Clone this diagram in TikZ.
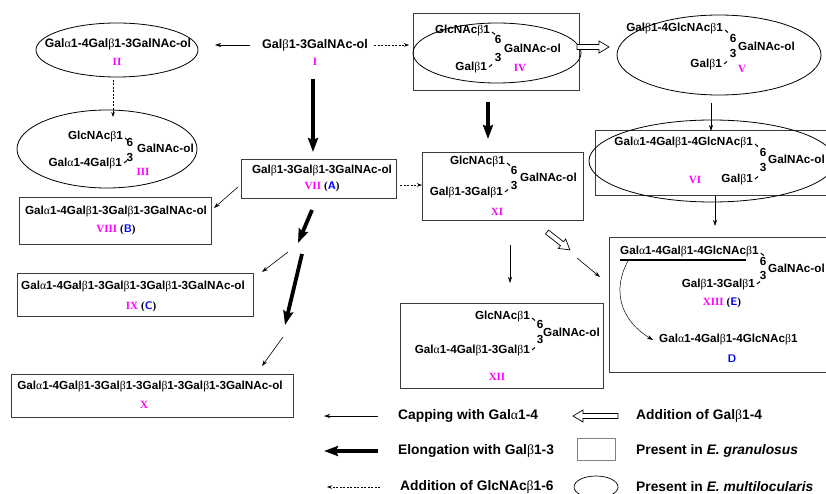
\documentclass[tikz,border=0pt]{standalone}
\usepackage{fontspec}
\setmainfont{Liberation Sans}
\newfontfamily\grk{Liberation Serif}
\newfontfamily\romf{Liberation Serif}
\usetikzlibrary{arrows.meta}
\definecolor{mag}{RGB}{255,0,255}
\definecolor{blu}{RGB}{0,0,255}
\definecolor{boxc}{RGB}{60,60,60}
\newcommand\bet{{\grk\mdseries β}}
\newcommand\alp{{\grk\mdseries α}}
\newcommand\rn[1]{{\romf\bfseries\color{mag}#1}}
\newcommand\ltr[1]{{\romf\bfseries(}{\sffamily\bfseries\color{blu}#1}{\romf\bfseries)}}
\tikzset{
  txt/.style={font=\fontsize{11.7}{13}\selectfont\bfseries, inner sep=0pt},
  bigtxt/.style={font=\fontsize{12.6}{14}\selectfont\bfseries, inner sep=0pt},
  legtxt/.style={font=\fontsize{13.8}{15}\selectfont\bfseries, inner sep=0pt, anchor=west},
  num/.style={font=\fontsize{11}{12}\selectfont, inner sep=0pt},
  sbox/.style={draw=boxc, line width=0.9pt},
  ell/.style={draw, line width=0.8pt},
  thinarr/.style={-{Stealth[length=6pt,width=4pt]}, line width=0.6pt},
  thickarr/.style={-{Stealth[length=14pt,width=10pt,inset=2pt]}, line width=3.8pt},
  dots/.style={-{Stealth[length=5pt,width=3.5pt]}, line width=0.6pt, dash pattern=on 2pt off 1.5pt},
  br/.style={line width=1pt},
  hollowarr/.pic={\draw[fill=white, line width=0.7pt] (0,-2.5) -- (#1-10,-2.5) -- (#1-10,-6) -- (#1,0) -- (#1-10,6) -- (#1-10,2.5) -- (0,2.5) -- cycle;},
}
\begin{document}
\begin{tikzpicture}[x=1pt,y=-1pt]
\useasboundingbox (0,0) rectangle (826,494);

% ---------- I ----------
\node[bigtxt] (Ia) at (315,45) {Gal\bet1-3GalNAc-ol};
\node[num] (In) at (315,62) {\rn{I}};

% ---------- II ----------
\draw[ell] (117,50) ellipse [x radius=81, y radius=27];
\node[bigtxt, font=\fontsize{12.2}{13}\selectfont\bfseries] (IIa) at (118,44) {Gal\alp1-4Gal\bet1-3GalNAc-ol};
\node[num] (IIn) at (117,62) {\rn{II}};

% ---------- III ----------
\draw[ell] (107,149) ellipse [x radius=90, y radius=39];
\node[txt, anchor=east] (IIIa) at (123,137) {GlcNAc\bet1};
\node[txt] (III6) at (130,142) {6};
\node[txt, anchor=west] (IIIb) at (137,148) {GalNAc-ol};
\node[txt] (III3) at (130,157) {3};
\node[txt, anchor=east] (IIIc) at (122,164) {Gal\alp1-4Gal\bet1};
\node[num] (IIIn) at (143,172) {\rn{III}};
\draw[br] ([shift={(2,1)}]IIIa.east) -- ++(3,2.5);
\draw[br] ([shift={(2,-1)}]IIIc.east) -- ++(3,-2.5);

% ---------- IV ----------
\draw[sbox] (413,13) rectangle (579,90);
\draw[ell] (497,53) ellipse [x radius=84, y radius=30];
\node[txt, anchor=east] (IVa) at (490,31) {GlcNAc\bet1};
\node[txt] (IV6) at (498,39) {6};
\node[txt, anchor=west] (IVb) at (504,48) {GalNAc-ol};
\node[txt] (IV3) at (498,57) {3};
\node[txt, anchor=east] (IVc) at (487,68) {Gal\bet1};
\node[num] (IVn) at (520,68) {\rn{IV}};
\draw[br] ([shift={(2,1)}]IVa.east) -- ++(3,2.5);
\draw[br] ([shift={(2,-1)}]IVc.east) -- ++(3,-2.5);

% ---------- V ----------
\draw[ell] (719,55) ellipse [x radius=102, y radius=40];
\node[txt, anchor=east] (Va) at (723,29) {Gal\bet1-4GlcNAc\bet1};
\node[txt] (V6) at (733,38) {6};
\node[txt, anchor=west] (Vb) at (738,46) {GalNAc-ol};
\node[txt] (V3) at (733,53) {3};
\node[txt, anchor=east] (Vc) at (722,65) {Gal\bet1};
\node[num] (Vn) at (742,69) {\rn{V}};
\draw[br] ([shift={(2,1)}]Va.east) -- ++(3,2.5);
\draw[br] ([shift={(2,-1)}]Vc.east) -- ++(3,-2.5);

% ---------- VI ----------
\draw[sbox] (830,130) -- (595,130) -- (595,195) -- (830,195);
\draw[ell] (712,161) ellipse [x radius=123, y radius=41];
\node[txt, anchor=east] (VIa) at (753,143) {Gal\alp1-4Gal\bet1-4GlcNAc\bet1};
\node[txt] (VI6) at (763,152) {6};
\node[txt, anchor=west] (VIb) at (768,159) {GalNAc-ol};
\node[txt] (VI3) at (763,167) {3};
\node[txt, anchor=east] (VIc) at (753,180) {Gal\bet1};
\node[num] (VIn) at (695,180) {\rn{VI}};
\draw[br] ([shift={(2,1)}]VIa.east) -- ++(3,2.5);
\draw[br] ([shift={(2,-1)}]VIc.east) -- ++(3,-2.5);

% ---------- VII ----------
\draw[sbox] (241,159) rectangle (396,198);
\node[txt] (VIIa) at (322,171) {Gal\bet1-3Gal\bet1-3GalNAc-ol};
\node[num] (VIIn) at (322,187) {\rn{VII} \ltr{A}};

% ---------- VIII ----------
\draw[sbox] (19,197) rectangle (211,244);
\node[txt] (VIIIa) at (116,212) {Gal\alp1-4Gal\bet1-3Gal\bet1-3GalNAc-ol};
\node[num] (VIIIn) at (116,230) {\rn{VIII} \ltr{B}};

% ---------- IX ----------
\draw[sbox] (17,273) rectangle (253,316);
\node[txt] (IXa) at (133,287) {Gal\alp1-4Gal\bet1-3Gal\bet1-3Gal\bet1-3GalNAc-ol};
\node[num] (IXn) at (141,307) {\rn{IX} \ltr{C}};

% ---------- X ----------
\draw[sbox] (11,374) rectangle (293,417);
\node[txt] (Xa) at (150,387) {Gal\alp1-4Gal\bet1-3Gal\bet1-3Gal\bet1-3Gal\bet1-3GalNAc-ol};
\node[num] (Xn) at (144,405) {\rn{X}};

% ---------- XI ----------
\draw[sbox] (422,152) rectangle (583,220);
\node[txt, anchor=east] (XIa) at (505,162) {GlcNAc\bet1};
\node[txt] (XI6) at (514,170) {6};
\node[txt, anchor=west] (XIb) at (520,177) {GalNAc-ol};
\node[txt] (XI3) at (514,185) {3};
\node[txt, anchor=east] (XIc) at (503,193) {Gal\bet1-3Gal\bet1};
\node[num] (XIn) at (497,212) {\rn{XI}};
\draw[br] ([shift={(2,1)}]XIa.east) -- ++(3,2.5);
\draw[br] ([shift={(2,-1)}]XIc.east) -- ++(3,-2.5);

% ---------- XII ----------
\draw[sbox] (400,303) rectangle (603,388);
\node[txt, anchor=east] (XIIa) at (530,317) {GlcNAc\bet1};
\node[txt] (XII6) at (540,324) {6};
\node[txt, anchor=west] (XIIb) at (543,332) {GalNAc-ol};
\node[txt] (XII3) at (540,339) {3};
\node[txt, anchor=east] (XIIc) at (530,351) {Gal\alp1-4Gal\bet1-3Gal\bet1};
\node[num] (XIIn) at (497,377) {\rn{XII}};
\draw[br] ([shift={(2,1)}]XIIa.east) -- ++(3,2.5);
\draw[br] ([shift={(2,-1)}]XIIc.east) -- ++(3,-2.5);

% ---------- XIII / D ----------
\draw[sbox] (830,237) -- (609,237) -- (609,372) -- (830,372);
\node[txt, anchor=west] (XIIIa) at (620,252) {Gal\alp1-4Gal\bet1-4GlcNAc\bet1};
\draw[line width=1.3pt] (620,260) -- (746,260);
\node[txt] (XIII6) at (763,261) {6};
\node[txt, anchor=west] (XIIIb) at (768,268) {GalNAc-ol};
\node[txt] (XIII3) at (763,275) {3};
\node[txt, anchor=east] (XIIIc) at (755,285) {Gal\bet1-3Gal\bet1};
\node[num] (XIIIn) at (722,303) {\rn{XIII} \ltr{E}};
\node[txt, anchor=west] (Da) at (659,340) {Gal\alp1-4Gal\bet1-4GlcNAc\bet1};
\node[num] (Dn) at (732,359) {{\sffamily\bfseries\color{blu}D}};
\draw[br] ([shift={(2,1)}]XIIIa.east) -- ++(3,2.5);
\draw[br] ([shift={(2,-1)}]XIIIc.east) -- ++(3,-2.5);
\coordinate (cs) at (628,261);
\draw[thinarr, line width=0.5pt] (cs) .. controls (612,290) and (620,320) .. ([xshift=-6]Da.west);

% ---------- connectors ----------
\coordinate (p1) at (298,243);
\coordinate (p2) at (285,325);
\draw[thinarr] ([xshift=-12]Ia.west) -- (215,45);
\draw[dots] ([xshift=6]Ia.east) -- (409,45);
\draw[dots] (113,80) -- (113,117);
\draw[thickarr] (313,79) -- (313,152);
\draw[thinarr] (238,187) -- (214,208);
\draw[dots] (400,185) -- (422,185);
\draw[thickarr] (312,210) -- (p1);
\draw[thinarr] (288,252) -- (262,272);
\draw[thickarr] (302,254) -- (p2);
\draw[thinarr] (283,337) -- (262,366);
\draw[thickarr] (488,102) -- (488,139);
\pic at (577,47) {hollowarr=32};
\draw[thinarr] (711,103) -- (711,131);
\draw[thinarr] (715,196) -- (715,226);
\pic[rotate=-38] at (547,232) {hollowarr=29};
\draw[thinarr] (577,258) -- (600,277);
\draw[thinarr] (510,245) -- (510,283);

% ---------- legend ----------
\draw[thinarr] (378,416) -- (324,416);
\node[legtxt] (L1) at (398,416) {Capping with Gal\alp1-4};
\draw[thickarr] (378,451) -- (324,451);
\node[legtxt] (L2) at (398,451) {Elongation with Gal\bet1-3};
\draw[dots] (380,487) -- (327,487);
\node[legtxt] (L3) at (400,487) {Addition of GlcNAc\bet1-6};
\pic[rotate=180] at (618,416) {hollowarr=45};
\node[legtxt] (L4) at (636,416) {Addition of Gal\bet1-4};
\draw[sbox, draw=gray] (577,438) rectangle (615,460);
\node[legtxt] (L5) at (636,451) {Present in \textit{E. granulosus}};
\draw[ell, line width=0.7pt] (596,487) ellipse [x radius=22, y radius=11];
\node[legtxt] (L6) at (636,487) {Present in \textit{E. multilocularis}};
\end{tikzpicture}
\end{document}
